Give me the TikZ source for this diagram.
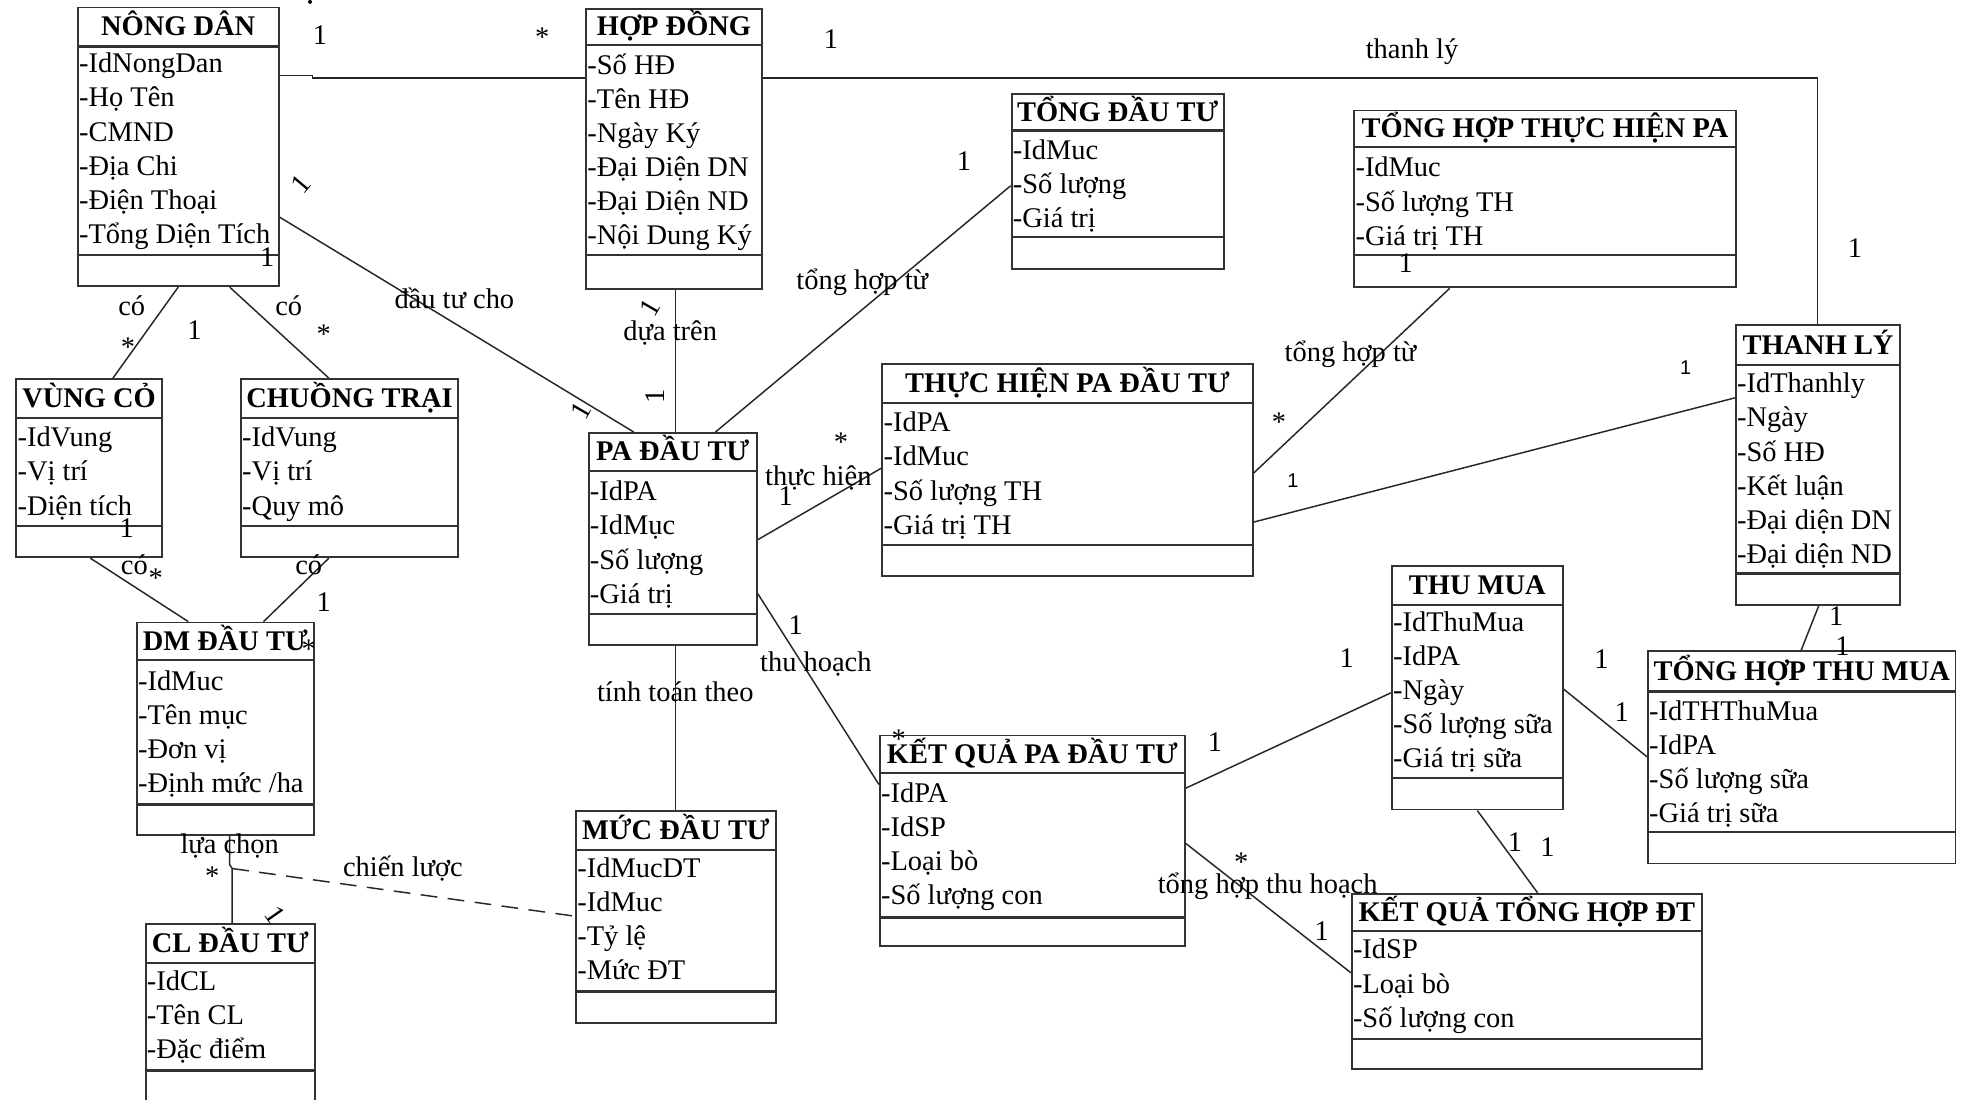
\documentclass[tikz,border=0pt]{standalone}
\usepackage{fontspec}
\setmainfont{Liberation Serif}
\newfontfamily\sansf{Liberation Sans}
\usetikzlibrary{calc,fit}

\tikzset{
  boxframe/.style={draw=black!80, line width=0.9pt},
  sepline/.style={draw=black!80, line width=1.1pt},
  ttl/.style={font=\fontsize{13.6}{16}\selectfont\bfseries, inner sep=0pt, text height=0.7em, text depth=0.2em},
  attr/.style={font=\fontsize{13.6}{16}\selectfont, inner sep=0.4pt, anchor=west, text height=0.7em, text depth=0.22em},
  conn/.style={draw=black!85, line width=0.7pt},
  dconn/.style={conn, dash pattern=on 8pt off 5pt},
  lbl/.style={font=\fontsize{13.6}{16}\selectfont, inner sep=0pt},
  slbl/.style={font=\sansf\fontsize{9.5}{11}\selectfont, inner sep=0pt},
}

\newcommand\umlbox[8]{%
  \coordinate (#1-nw) at (#2,#3);
  \coordinate (#1-se) at (#4,#5);
  \node[fit=(#1-nw)(#1-se), inner sep=0pt, boxframe] (#1) {};
  \draw[sepline] (#2,#6) -- (#4,#6);
  \draw[sepline] (#2,#7) -- (#4,#7);
  \node[ttl] (#1-t) at ({(#2+#4)/2},{(#3+#6)/2+3}) {#8};
}
\newcommand\attrs[4]{%
  \foreach \itm [count=\i from 0] in {#4} {
    \node[attr] (#1-a\i) at (#2,{#3+3+27.2*\i}) {\itm};
  }
}

\begin{document}
\begin{tikzpicture}[x=0.6pt,y=-0.6pt]
\fill[white] (0,0) rectangle (1568,876);
\useasboundingbox (0,0) rectangle (1568,876);

% boxes
\umlbox{nd}{62}{6}{222}{228}{37}{203}{NÔNG DÂN}
\attrs{nd}{62}{51}{-IdNongDan,-Họ Tên,-CMND,-Địa Chi,-Điện Thoại,-Tổng Diện Tích}

\umlbox{hd}{467}{7}{607}{230}{36}{203}{HỢP ĐỒNG}
\attrs{hd}{467}{52}{-Số HĐ,-Tên HĐ,-Ngày Ký,-Đại Diện DN,-Đại Diện ND,-Nội Dung Ký}

\umlbox{td}{806}{75}{975}{214}{104}{189}{TỔNG ĐẦU TƯ}
\attrs{td}{806}{120}{-IdMuc,-Số lượng,-Giá trị}

\umlbox{thpa}{1079}{88}{1383}{229}{117}{203}{TỔNG HỢP THỰC HIỆN PA}
\attrs{thpa}{1079}{134}{-IdMuc,-Số lượng TH,-Giá trị TH}

\umlbox{tl}{1383}{259}{1514}{482}{291}{457}{THANH LÝ}
\attrs{tl}{1383}{306}{-IdThanhly,-Ngày,-Số HĐ,-Kết luận,-Đại diện DN,-Đại diện ND}

\umlbox{vc}{13}{302}{129}{444}{333}{419}{VÙNG CỎ}
\attrs{vc}{13}{349}{-IdVung,-Vị trí,-Diện tích}

\umlbox{ct}{192}{302}{365}{444}{333}{419}{CHUỒNG TRẠI}
\attrs{ct}{192}{349}{-IdVung,-Vị trí,-Quy mô}

\umlbox{pa}{469}{345}{603}{514}{375}{489}{PA ĐẦU TƯ}
\attrs{pa}{469}{392}{-IdPA,-IdMục,-Số lượng,-Giá trị}

\umlbox{th}{703}{290}{998}{459}{321}{434}{THỰC HIỆN PA ĐẦU TƯ}
\attrs{th}{703}{337}{-IdPA,-IdMuc,-Số lượng TH,-Giá trị TH}

\umlbox{dm}{109}{496}{250}{665}{526}{641}{DM ĐẦU TƯ}
\attrs{dm}{109}{543}{-IdMuc,-Tên mục,-Đơn vị,{-Định mức /ha}}

\umlbox{tm}{1109}{451}{1245}{645}{482}{620}{THU MUA}
\attrs{tm}{1109}{496}{-IdThuMua,-IdPA,-Ngày,-Số lượng sữa,-Giá trị sữa}

\umlbox{thm}{1313}{519}{1558}{688}{551}{663}{TỔNG HỢP THU MUA}
\attrs{thm}{1313}{567}{-IdTHThuMua,-IdPA,-Số lượng sữa,-Giá trị sữa}

\umlbox{kq}{701}{586}{944}{754}{616}{731}{KẾT QUẢ PA ĐẦU TƯ}
\attrs{kq}{701}{632}{-IdPA,-IdSP,-Loại bò,-Số lượng con}

\umlbox{md}{459}{646}{618}{815}{677}{790}{MỨC ĐẦU TƯ}
\attrs{md}{459}{692}{-IdMucDT,-IdMuc,-Tỷ lệ,-Mức ĐT}

\umlbox{cl}{116}{736}{251}{884}{767}{853}{CL ĐẦU TƯ}
\attrs{cl}{116}{782}{-IdCL,-Tên CL,-Đặc điểm}

\umlbox{kqth}{1077}{712}{1356}{852}{742}{828}{KẾT QUẢ TỔNG HỢP ĐT}
\attrs{kqth}{1077}{757}{-IdSP,-Loại bò,-Số lượng con}

% connectors
\draw[conn] (nd.east |- 0,60) -- (249,60) -- (249,62) -- (hd.west |- 0,62);
\draw[conn] (hd.east |- 0,62) -- (1448,62) -- (1448,0 |- tl.north);
\draw[conn] (nd.east |- 0,173) -- (505,0 |- pa.north);
\draw[conn] (142,0 |- nd.south) -- (90,0 |- vc.north);
\draw[conn] (183,0 |- nd.south) -- (262,0 |- ct.north);
\draw[conn] (72,0 |- vc.south) -- (150,0 |- dm.north);
\draw[conn] (262,0 |- ct.south) -- (210,0 |- dm.north);
\draw[conn] (538,0 |- hd.south) -- (538,0 |- pa.north);
\draw[conn] (td.west |- 0,148) -- (570,0 |- pa.north);
\draw[conn] (pa.east |- 0,430) -- (th.west |- 0,373);
\draw[conn] (1155,0 |- thpa.south) -- (th.east |- 0,377);
\draw[conn] (th.east |- 0,416) -- (tl.west |- 0,317);
\draw[conn] (1449,0 |- tl.south) -- (1435,0 |- thm.north);
\draw[conn] (pa.east |- 0,473) -- (kq.west |- 0,625);
\draw[conn] (538,0 |- pa.south) -- (538,0 |- md.north);
\draw[conn] (kq.east |- 0,628) -- (tm.west |- 0,552);
\draw[conn] (tm.east |- 0,549) -- (thm.west |- 0,603);
\draw[conn] (1177,0 |- tm.south) -- (1225,0 |- kqth.north);
\draw[conn] (kq.east |- 0,672) -- (kqth.west |- 0,775);
\coordinate (jn) at (185,692);
\draw[conn] (183,0 |- dm.south) -- (183,689) -- (jn) -- (185,0 |- cl.north);
\draw[dconn] (jn) -- (md.west |- 0,730);
\fill[black] (247,1.5) circle (1.6);

% labels
\node[lbl] (l1) at (255,28) {1};
\node[lbl] (l2) at (432,30) {*};
\node[lbl] (l3) at (662,31) {1};
\node[lbl] (l4) at (1125,41) {thanh lý};
\node[lbl] (l5) at (1478,198) {1};
\node[lbl,rotate=50] (l6) at (240,147) {1};
\node[lbl] (l7) at (362,238) {đầu tư cho};
\node[lbl,rotate=60] (l8) at (463,327) {1};
\node[lbl] (l9) at (213,205) {1};
\node[lbl] (l10) at (105,244) {có};
\node[lbl] (l11) at (102,277) {*};
\node[lbl] (l12) at (155,263) {1};
\node[lbl] (l13) at (230,244) {có};
\node[lbl] (l14) at (258,266) {*};
\node[lbl] (l15) at (101,421) {1};
\node[lbl] (l16) at (107,450) {có};
\node[lbl] (l17) at (124,461) {*};
\node[lbl] (l18) at (246,450) {có};
\node[lbl] (l19) at (258,480) {1};
\node[lbl] (l20) at (246,517) {*};
\node[lbl,rotate=60] (l21) at (518,245) {1};
\node[lbl] (l22) at (534,265) {dựa trên};
\node[lbl,rotate=90] (l23) at (522,316) {1};
\node[lbl] (l24) at (768,128) {1};
\node[lbl] (l25) at (687,225) {tổng hợp từ};
\node[lbl] (l26) at (670,352) {*};
\node[lbl] (l27) at (652,381) {thực hiện};
\node[lbl] (l28) at (626,395) {1};
\node[lbl] (l29) at (1120,210) {1};
\node[lbl] (l30) at (1076,282) {tổng hợp từ};
\node[lbl] (l31) at (1019,336) {*};
\node[slbl] (l32) at (1343,293) {1};
\node[slbl] (l33) at (1030,383) {1};
\node[lbl] (l34) at (1463,491) {1};
\node[lbl] (l35) at (1468,515) {1};
\node[lbl] (l36) at (634,498) {1};
\node[lbl] (l37) at (650,529) {thu hoạch};
\node[lbl] (l38) at (716,589) {*};
\node[lbl] (l39) at (538,551) {tính toán theo};
\node[lbl] (l40) at (968,591) {1};
\node[lbl] (l41) at (1073,524) {1};
\node[lbl] (l42) at (1276,525) {1};
\node[lbl] (l43) at (1292,567) {1};
\node[lbl] (l44) at (1207,671) {1};
\node[lbl] (l45) at (1233,675) {1};
\node[lbl] (l46) at (989,687) {*};
\node[lbl] (l47) at (1010,706) {tổng hợp thu hoạch};
\node[lbl] (l48) at (1053,742) {1};
\node[lbl] (l49) at (183,674) {lựa chọn};
\node[lbl] (l50) at (169,698) {*};
\node[lbl,rotate=-55] (l51) at (219,729) {1};
\node[lbl] (l52) at (321,692) {chiến lược};
\end{tikzpicture}
\end{document}
